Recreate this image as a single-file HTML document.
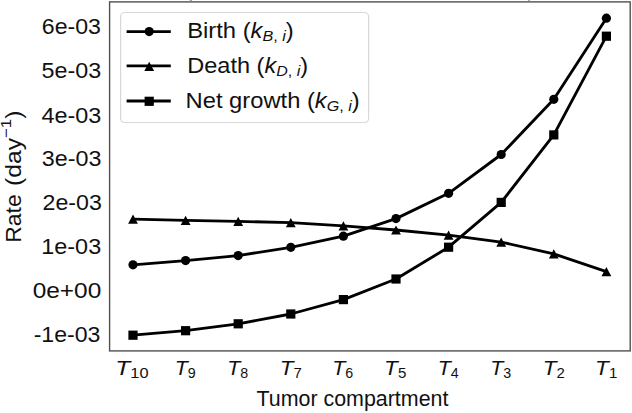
<!DOCTYPE html>
<html><head><meta charset="utf-8"><style>
html,body{margin:0;padding:0;background:#fff;}
svg{display:block;}
</style></head><body>
<svg width="632" height="413" viewBox="0 0 632 413">
<rect width="632" height="413" fill="#fff"/>
<g fill="none" stroke="#000" stroke-width="2.85" stroke-linejoin="round" stroke-linecap="butt">
<polyline points="133.0,264.8 185.6,260.6 238.2,255.6 290.8,247.3 343.4,236.2 396.0,218.6 448.6,193.3 501.2,154.5 553.8,99.3 606.4,18.2"/>
<polyline points="133.0,219.1 185.6,220.4 238.2,221.4 290.8,222.6 343.4,225.8 396.0,230.0 448.6,235.1 501.2,242.1 553.8,253.9 606.4,271.6"/>
<polyline points="133.0,335.2 185.6,330.7 238.2,323.8 290.8,314.0 343.4,299.6 396.0,279.0 448.6,247.2 501.2,202.4 553.8,134.9 606.4,36.2"/>
</g>
<g fill="#000">
<circle cx="133.00" cy="264.80" r="4.6"/><circle cx="185.60" cy="260.60" r="4.6"/><circle cx="238.20" cy="255.60" r="4.6"/><circle cx="290.80" cy="247.30" r="4.6"/><circle cx="343.40" cy="236.20" r="4.6"/><circle cx="396.00" cy="218.60" r="4.6"/><circle cx="448.60" cy="193.30" r="4.6"/><circle cx="501.20" cy="154.50" r="4.6"/><circle cx="553.80" cy="99.30" r="4.6"/><circle cx="606.40" cy="18.20" r="4.6"/>
<polygon points="133.00,214.50 128.10,223.70 137.90,223.70"/><polygon points="185.60,215.80 180.70,225.00 190.50,225.00"/><polygon points="238.20,216.80 233.30,226.00 243.10,226.00"/><polygon points="290.80,218.00 285.90,227.20 295.70,227.20"/><polygon points="343.40,221.20 338.50,230.40 348.30,230.40"/><polygon points="396.00,225.40 391.10,234.60 400.90,234.60"/><polygon points="448.60,230.50 443.70,239.70 453.50,239.70"/><polygon points="501.20,237.50 496.30,246.70 506.10,246.70"/><polygon points="553.80,249.30 548.90,258.50 558.70,258.50"/><polygon points="606.40,267.00 601.50,276.20 611.30,276.20"/>
<rect x="128.40" y="330.60" width="9.2" height="9.2"/><rect x="181.00" y="326.10" width="9.2" height="9.2"/><rect x="233.60" y="319.20" width="9.2" height="9.2"/><rect x="286.20" y="309.40" width="9.2" height="9.2"/><rect x="338.80" y="295.00" width="9.2" height="9.2"/><rect x="391.40" y="274.40" width="9.2" height="9.2"/><rect x="444.00" y="242.60" width="9.2" height="9.2"/><rect x="496.60" y="197.80" width="9.2" height="9.2"/><rect x="549.20" y="130.30" width="9.2" height="9.2"/><rect x="601.80" y="31.60" width="9.2" height="9.2"/>
</g>
<rect x="109.6" y="1.9" width="520.6" height="349" fill="none" stroke="#505050" stroke-width="1.4"/>
<rect x="189.8" y="0" width="2" height="1" fill="#999"/><rect x="528" y="0" width="2" height="1" fill="#aaa"/>
<rect x="120.6" y="12.5" width="248" height="110" rx="4" fill="#fff" fill-opacity="0.8" stroke="#d8d8d8" stroke-width="1.2"/>
<g stroke="#000" stroke-width="2.85">
<line x1="126.6" y1="31.6" x2="170.8" y2="31.6"/>
<line x1="126.6" y1="65.8" x2="170.8" y2="65.8"/>
<line x1="126.6" y1="101.0" x2="170.8" y2="101.0"/>
</g>
<g fill="#000">
<circle cx="149.20" cy="31.60" r="4.6"/><polygon points="149.20,61.70 144.30,70.90 154.10,70.90"/><rect x="144.60" y="96.70" width="9.2" height="9.2"/>
</g>
<g font-family='"Liberation Sans", sans-serif' fill="#111" stroke="#111" stroke-width="0">
<text x="187.15" y="38.20" font-size="21.5" text-anchor="start" textLength="106.58" lengthAdjust="spacingAndGlyphs">Birth (<tspan font-style="italic">k</tspan><tspan font-size="14.6" dy="2.8"><tspan font-style="italic">B</tspan>, <tspan font-style="italic">i</tspan></tspan><tspan dy="-2.8">)</tspan></text>
<text x="187.25" y="73.30" font-size="21.5" text-anchor="start" textLength="120.84" lengthAdjust="spacingAndGlyphs">Death (<tspan font-style="italic">k</tspan><tspan font-size="14.6" dy="2.8"><tspan font-style="italic">D</tspan>, <tspan font-style="italic">i</tspan></tspan><tspan dy="-2.8">)</tspan></text>
<text x="185.55" y="108.40" font-size="21.5" text-anchor="start" textLength="174.21" lengthAdjust="spacingAndGlyphs">Net growth (<tspan font-style="italic">k</tspan><tspan font-size="14.6" dy="2.8"><tspan font-style="italic">G</tspan>, <tspan font-style="italic">i</tspan></tspan><tspan dy="-2.8">)</tspan></text>
<text x="100.95" y="34.29" font-size="22" text-anchor="end" textLength="59.12" lengthAdjust="spacingAndGlyphs">6e-03</text><text x="101.20" y="78.14" font-size="22" text-anchor="end" textLength="59.63" lengthAdjust="spacingAndGlyphs">5e-03</text><text x="101.40" y="122.59" font-size="22" text-anchor="end" textLength="59.87" lengthAdjust="spacingAndGlyphs">4e-03</text><text x="101.50" y="165.74" font-size="22" text-anchor="end" textLength="59.64" lengthAdjust="spacingAndGlyphs">3e-03</text><text x="101.85" y="210.24" font-size="22" text-anchor="end" textLength="59.27" lengthAdjust="spacingAndGlyphs">2e-03</text><text x="101.20" y="254.19" font-size="22" text-anchor="end" textLength="59.92" lengthAdjust="spacingAndGlyphs">1e-03</text><text x="101.25" y="297.89" font-size="22" text-anchor="end" textLength="68.59" lengthAdjust="spacingAndGlyphs">0e+00</text><text x="100.40" y="341.59" font-size="22" text-anchor="end" textLength="66.75" lengthAdjust="spacingAndGlyphs">-1e-03</text>
<text x="131.95" y="374.50" font-size="21" text-anchor="middle" textLength="33.17" lengthAdjust="spacingAndGlyphs"><tspan font-style="italic">T</tspan><tspan font-size="14" dy="3.1">10</tspan></text><text x="185.20" y="374.50" font-size="21" text-anchor="middle" textLength="21.01" lengthAdjust="spacingAndGlyphs"><tspan font-style="italic">T</tspan><tspan font-size="14" dy="3.1">9</tspan></text><text x="237.70" y="374.50" font-size="21" text-anchor="middle" textLength="20.97" lengthAdjust="spacingAndGlyphs"><tspan font-style="italic">T</tspan><tspan font-size="14" dy="3.1">8</tspan></text><text x="290.70" y="374.50" font-size="21" text-anchor="middle" textLength="22.10" lengthAdjust="spacingAndGlyphs"><tspan font-style="italic">T</tspan><tspan font-size="14" dy="3.1">7</tspan></text><text x="342.70" y="374.50" font-size="21" text-anchor="middle" textLength="21.03" lengthAdjust="spacingAndGlyphs"><tspan font-style="italic">T</tspan><tspan font-size="14" dy="3.1">6</tspan></text><text x="395.20" y="374.50" font-size="21" text-anchor="middle" textLength="22.13" lengthAdjust="spacingAndGlyphs"><tspan font-style="italic">T</tspan><tspan font-size="14" dy="3.1">5</tspan></text><text x="448.20" y="374.50" font-size="21" text-anchor="middle" textLength="20.94" lengthAdjust="spacingAndGlyphs"><tspan font-style="italic">T</tspan><tspan font-size="14" dy="3.1">4</tspan></text><text x="500.70" y="374.50" font-size="21" text-anchor="middle" textLength="20.97" lengthAdjust="spacingAndGlyphs"><tspan font-style="italic">T</tspan><tspan font-size="14" dy="3.1">3</tspan></text><text x="553.70" y="374.50" font-size="21" text-anchor="middle" textLength="22.10" lengthAdjust="spacingAndGlyphs"><tspan font-style="italic">T</tspan><tspan font-size="14" dy="3.1">2</tspan></text><text x="606.20" y="374.50" font-size="21" text-anchor="middle" textLength="22.13" lengthAdjust="spacingAndGlyphs"><tspan font-style="italic">T</tspan><tspan font-size="14" dy="3.1">1</tspan></text>
<text x="256.55" y="406.40" font-size="21.3" text-anchor="start" textLength="191.84" lengthAdjust="spacingAndGlyphs">Tumor compartment</text>
<g transform="translate(20.6,0) rotate(-90)"><text x="-242.80" y="0.00" font-size="22" text-anchor="start" textLength="48.45" lengthAdjust="spacingAndGlyphs">Rate</text><text x="-110.60" y="0.00" font-size="22" text-anchor="end" textLength="75.37" lengthAdjust="spacingAndGlyphs">(day<tspan font-size="15" dy="-9.5">&#8722;1</tspan><tspan dy="9.5">)</tspan></text></g>
</g>
</svg>
</body></html>
